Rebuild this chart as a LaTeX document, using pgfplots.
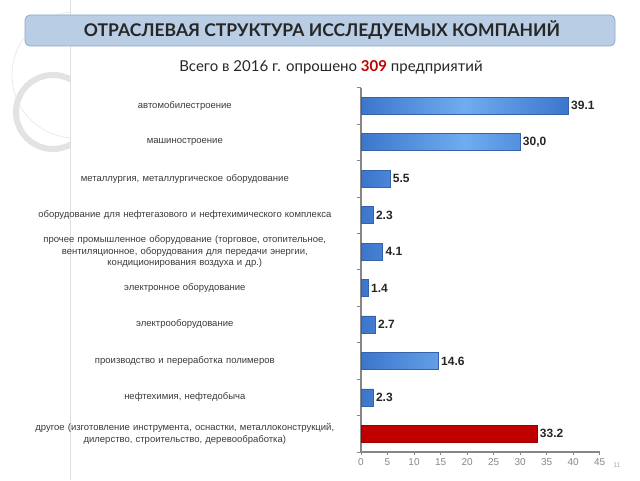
\documentclass[border=0pt]{standalone}
\usepackage{fontspec}
\setmainfont{Liberation Sans}
\newfontfamily\gill{Lato}
\usepackage{pgfplots}
\pgfplotsset{compat=1.18}

\definecolor{barblue}{HTML}{3C76CC}
\definecolor{barlight}{HTML}{70ACF0}
\definecolor{baredge}{HTML}{3563AA}
\definecolor{barred}{HTML}{C00000}
\definecolor{rededge}{HTML}{9A0000}
\definecolor{titlefill}{HTML}{B9CDE5}
\definecolor{titleedge}{HTML}{8EAAD0}
\definecolor{axisgray}{HTML}{868686}
\definecolor{labgray}{HTML}{3A3A3A}

% pos 0 = bottom row
\pgfplotstableread{
pos val lab
1 2.3 2.3
2 14.6 14.6
3 2.7 2.7
4 1.4 1.4
5 4.1 4.1
6 2.3 2.3
7 5.5 5.5
8 30.0 30,0
9 39.1 39.1
}\bluedata
\pgfplotstableread{
pos val lab
0 33.2 33.2
}\reddata

\begin{document}
\begin{tikzpicture}[x=1pt,y=1pt]
\path[use as bounding box] (0,0) rectangle (640,480);

% slide decoration
\begin{scope}
\clip (0,0) rectangle (70,480);
\draw[gray!22, line width=6pt] (53,368) circle (37);
\draw[gray!20, line width=0.6pt] (75,405) circle (63);
\end{scope}
\draw[gray!25, line width=0.8pt] (70,0) -- (70,480);

% title bar
\draw[titleedge, fill=titlefill, rounded corners=5pt, line width=0.8pt] (25,434) rectangle (615,465);
\node[font=\gill\bfseries\fontsize{17.5}{17.5}\selectfont, text=black!85] at (322,449.5)
  {ОТРАСЛЕВАЯ СТРУКТУРА ИССЛЕДУЕМЫХ КОМПАНИЙ};
\node[anchor=base, font=\gill\fontsize{15}{15}\selectfont, text=black!85] at (331,408.3)
  {Всего в 2016 г. опрошено {\bfseries\color{barred}309} предприятий};
\node[font=\fontsize{7}{7}\selectfont, text=gray!60] at (617,15) {11};

\begin{axis}[
  at={(361pt,28pt)}, anchor=south west,
  scale only axis, width=238.7pt, height=364.4pt,
  xmin=0, xmax=45, ymin=-0.5, ymax=9.5,
  clip=false,
  axis x line*=bottom, axis y line*=left,
  axis line style={axisgray, line width=1.2pt},
  xtick={0,5,...,45},
  ytick={0,...,9},
  minor ytick={-0.5,0.5,...,9.5},
  tick align=outside,
  major tick length=3pt, minor tick length=4pt,
  major x tick style={draw=axisgray, line width=0.8pt},
  major y tick style={draw=none},
  minor y tick style={draw=axisgray, line width=0.8pt},
  /pgf/number format/assume math mode=true,
  xticklabel style={font=\fontsize{10}{10}\selectfont, text=axisgray},
  yticklabel style={font=\fontsize{9.5}{11.5}\selectfont, text=labgray,
    text width=330pt, align=center, inner sep=0pt, anchor=east, xshift=-8pt},
  yticklabels={
    {другое (изготовление инструмента, оснастки, металлоконструкций,\\ дилерство, строительство, деревообработка)},
    {нефтехимия, нефтедобыча},
    {производство и переработка полимеров},
    {электрооборудование},
    {электронное оборудование},
    {прочее промышленное оборудование (торговое, отопительное,\\ вентиляционное, оборудования для передачи энергии,\\ кондиционирования воздуха и др.)},
    {оборудование для нефтегазового и нефтехимического комплекса},
    {металлургия, металлургическое оборудование},
    {машиностроение},
    {автомобилестроение}},
  xbar, bar width=17pt, bar shift=0pt,
  point meta=explicit symbolic,
  nodes near coords,
  nodes near coords style={font=\bfseries\fontsize{12}{12}\selectfont, text=black!85, anchor=west, inner sep=2.5pt},
]
\addplot[draw=baredge, line width=0.6pt, left color=barblue, right color=barblue, middle color=barlight]
  table[x=val, y=pos, meta=lab] {\bluedata};
\addplot[draw=rededge, line width=0.6pt, fill=barred]
  table[x=val, y=pos, meta=lab] {\reddata};
\end{axis}
\end{tikzpicture}
\end{document}
